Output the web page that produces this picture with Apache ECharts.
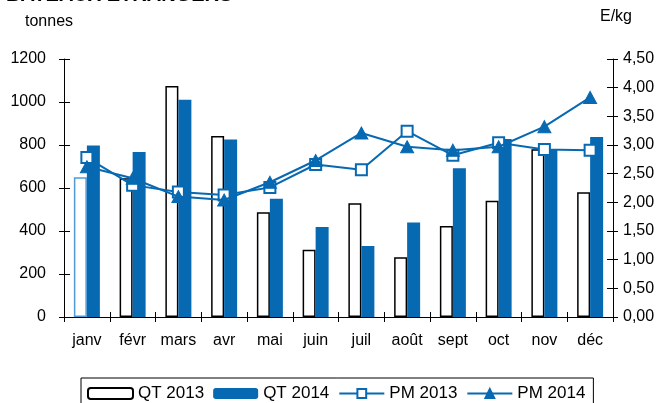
<!DOCTYPE html>
<html>
<head>
<meta charset="utf-8">
<script src="https://cdn.jsdelivr.net/npm/echarts@6/dist/echarts.min.js"></script>
<style>
  html, body { margin: 0; padding: 0; background: #fff; }
  #chart { width: 663px; height: 403px; }
</style>
</head>
<body>
<div id="chart"></div>
<script>
// Monthly tonnage and average price, foreign vessels
const months = ['janv', 'févr', 'mars', 'avr', 'mai', 'juin', 'juil', 'août', 'sept', 'oct', 'nov', 'déc'];
const qt2013 = [650, 645, 1075, 842, 487, 313, 529, 278, 423, 541, 780, 580];
const qt2014 = [798, 767, 1011, 826, 550, 419, 330, 439, 692, 828, 777, 837];
const pm2013 = [2.78, 2.30, 2.18, 2.13, 2.26, 2.66, 2.57, 3.24, 2.82, 3.04, 2.92, 2.91];
const pm2014 = [2.62, 2.42, 2.10, 2.04, 2.35, 2.73, 3.21, 2.97, 2.91, 2.97, 3.32, 3.83];
const leftTicks = { min: 0, max: 1200, interval: 200 };
const rightTicks = { min: 0, max: 4.5, interval: 0.5 };

const BLUE = '#0769b2';
const FONT = 'Liberation Sans, Arial, sans-serif';

const chart = echarts.init(document.getElementById('chart'), null, { renderer: 'canvas' });

const tickStyle = { color: '#000', width: 1 };
const hiddenAxisParts = {
  axisLine: { show: false },
  axisLabel: { show: false },
  splitLine: { show: false }
};

chart.setOption({
  animation: false,
  textStyle: { fontFamily: FONT },
  grid: { left: 64, right: 50, top: 59, bottom: 86, containLabel: false },
  graphic: [
    { type: 'text', left: 6, top: -15, style: { text: 'BATEAUX ETRANGERS', font: 'bold 20px ' + FONT, fill: '#000' } },
    { type: 'text', left: 25, top: 14, style: { text: 'tonnes', font: '16px ' + FONT, fill: '#000' } },
    { type: 'text', left: 600, top: 9, style: { text: 'E/kg', font: '16px ' + FONT, fill: '#000' } }
  ],
  legend: {
    left: 81, top: 378,
    padding: [7, 8, 7, 6],
    borderColor: '#000', borderWidth: 1,
    itemWidth: 45, itemHeight: 11, itemGap: 9,
    textStyle: { fontSize: 17, color: '#000', fontFamily: FONT },
    data: ['QT 2013', 'QT 2014', 'PM 2013', 'PM 2014']
  },
  xAxis: [
    {
      type: 'category', data: months, position: 'bottom',
      axisLine: { lineStyle: { color: '#000', width: 1 } },
      axisTick: { show: true, inside: false, length: 5, lineStyle: tickStyle },
      axisLabel: { color: '#000', fontSize: 16, margin: 16, interval: 0, fontFamily: FONT },
      splitLine: { show: false }
    },
    Object.assign({
      type: 'category', data: months, position: 'bottom',
      axisTick: { show: true, inside: true, length: 5, lineStyle: tickStyle }
    }, hiddenAxisParts)
  ],
  yAxis: [
    {
      type: 'value', position: 'left', min: leftTicks.min, max: leftTicks.max, interval: leftTicks.interval,
      axisLine: { show: true, lineStyle: { color: '#000', width: 1 } },
      axisTick: { show: true, inside: false, length: 5, lineStyle: tickStyle },
      axisLabel: { color: '#000', fontSize: 16, margin: 18, fontFamily: FONT, formatter: v => String(v) },
      splitLine: { show: false }
    },
    {
      type: 'value', position: 'right', min: rightTicks.min, max: rightTicks.max, interval: rightTicks.interval,
      axisLine: { show: true, lineStyle: { color: '#000', width: 1 } },
      axisTick: { show: true, inside: false, length: 5, lineStyle: tickStyle },
      axisLabel: {
        color: '#000', fontSize: 16, margin: 10, fontFamily: FONT,
        formatter: v => v.toFixed(2).replace('.', ',')
      },
      splitLine: { show: false }
    },
    Object.assign({
      type: 'value', position: 'left', min: leftTicks.min, max: leftTicks.max, interval: leftTicks.interval,
      axisTick: { show: true, inside: true, length: 6, lineStyle: tickStyle }
    }, hiddenAxisParts),
    Object.assign({
      type: 'value', position: 'right', min: rightTicks.min, max: rightTicks.max, interval: rightTicks.interval,
      axisTick: { show: true, inside: true, length: 6, lineStyle: tickStyle }
    }, hiddenAxisParts)
  ],
  series: [
    {
      name: 'QT 2013', type: 'bar', xAxisIndex: 0, yAxisIndex: 0,
      barWidth: 13, barGap: '0%',
      itemStyle: { color: '#fff', borderColor: '#000', borderWidth: 1.5 },
      data: qt2013.map((v, i) => i === 0
        ? { value: v, itemStyle: { borderColor: '#4f9bd6' } }
        : v)
    },
    {
      name: 'QT 2014', type: 'bar', xAxisIndex: 0, yAxisIndex: 0,
      barWidth: 13, barGap: '0%',
      itemStyle: { color: BLUE },
      data: qt2014
    },
    {
      name: 'PM 2013', type: 'line', xAxisIndex: 0, yAxisIndex: 1, z: 5,
      symbol: 'rect', symbolSize: 11,
      lineStyle: { color: BLUE, width: 2 },
      itemStyle: { color: '#fff', borderColor: BLUE, borderWidth: 2 },
      data: pm2013
    },
    {
      name: 'PM 2014', type: 'line', xAxisIndex: 0, yAxisIndex: 1, z: 6,
      symbol: 'triangle', symbolSize: [13, 12],
      lineStyle: { color: BLUE, width: 2 },
      itemStyle: { color: BLUE, borderColor: BLUE, borderWidth: 1 },
      data: pm2014
    }
  ]
});
</script>
</body>
</html>
